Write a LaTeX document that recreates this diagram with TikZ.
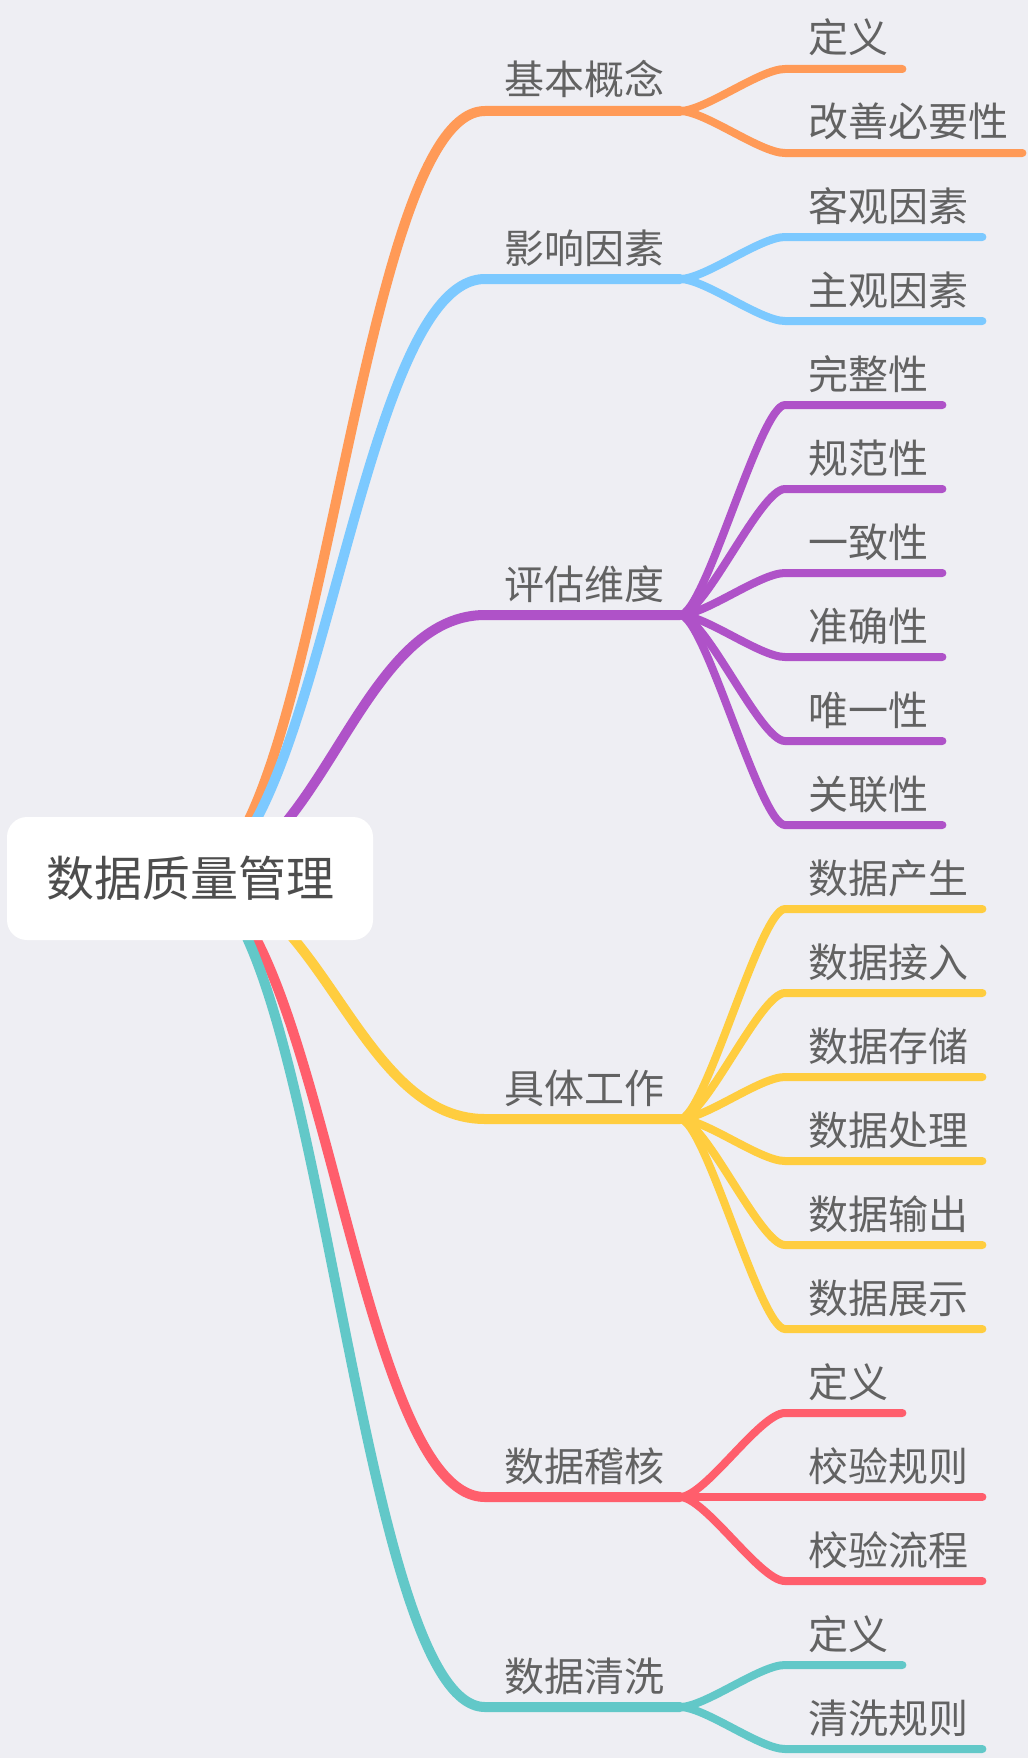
\documentclass[tikz,border=0pt]{standalone}
\usepackage{fontspec}
\setmainfont{Noto Sans CJK SC}
\usetikzlibrary{calc}
\definecolor{bgc}{HTML}{EEEEF3}
\definecolor{corange}{HTML}{FF9A57}
\definecolor{cblue}{HTML}{7CC9FF}
\definecolor{cpurple}{HTML}{AF52C8}
\definecolor{cyellow}{HTML}{FFCD3F}
\definecolor{cred}{HTML}{FF5E6C}
\definecolor{cteal}{HTML}{62C8C8}
\definecolor{txt}{HTML}{626262}
\definecolor{roottxt}{HTML}{4D4D4D}
\pgfdeclarelayer{bgl}
\pgfdeclarelayer{lines}
\pgfsetlayers{bgl,lines,main}
\newcommand{\mmbranch}[4]{% color, y, name, text
  \node[maintext] (#3) at (584.5,#2-16) {#4};
  \coordinate (#3s) at (485,#2);
  \coordinate (#3f) at (680,#2);
  \begin{pgfonlayer}{lines}
  \draw[mainline,#1] (root.center) .. controls ($(root.center)+(130,0)$) and ($(#3s)+(-130,0)$) .. (#3s) -- (#3f);
  \end{pgfonlayer}
}
\newcommand{\mmkid}[5]{% color, fork, y, name, text
  \node[kidtext] (#4) at (808,#3-16) {#5};
  \coordinate (#4s) at (785,#3);
  \begin{pgfonlayer}{lines}
  \draw[kidline,#1] (#2) .. controls ($(#2)+(25,0)$) and ($(#4s)+(-25,0)$) .. (#4s) -- ($(#4.base east)+(14,16)$);
  \end{pgfonlayer}
}
\begin{document}
\begin{tikzpicture}[x=1pt,y=-1pt,
  rootbox/.style={fill=white, rounded corners=20pt, minimum width=366pt, minimum height=123pt, inner sep=0pt, text=roottxt, font=\fontsize{48}{48}\selectfont},
  maintext/.style={anchor=base, inner sep=0pt, text=txt, font=\fontsize{40}{40}\selectfont},
  kidtext/.style={anchor=base west, inner sep=0pt, text=txt, font=\fontsize{40}{40}\selectfont},
  mainline/.style={line width=10pt, line cap=round},
  kidline/.style={line width=8pt, line cap=round}]
\useasboundingbox (0,0) rectangle (1028,1758);
\begin{pgfonlayer}{bgl}
\fill[bgc] (0,0) rectangle (1028,1758);
\end{pgfonlayer}
\node[rootbox] (root) at (190,878.5) {数据质量管理};

\mmbranch{corange}{111}{bA}{基本概念}
\mmkid{corange}{bAf}{69}{kA1}{定义}
\mmkid{corange}{bAf}{153}{kA2}{改善必要性}

\mmbranch{cblue}{279}{bB}{影响因素}
\mmkid{cblue}{bBf}{237}{kB1}{客观因素}
\mmkid{cblue}{bBf}{321}{kB2}{主观因素}

\mmbranch{cpurple}{615}{bC}{评估维度}
\mmkid{cpurple}{bCf}{405}{kC1}{完整性}
\mmkid{cpurple}{bCf}{489}{kC2}{规范性}
\mmkid{cpurple}{bCf}{573}{kC3}{一致性}
\mmkid{cpurple}{bCf}{657}{kC4}{准确性}
\mmkid{cpurple}{bCf}{741}{kC5}{唯一性}
\mmkid{cpurple}{bCf}{825}{kC6}{关联性}

\mmbranch{cyellow}{1119}{bD}{具体工作}
\mmkid{cyellow}{bDf}{909}{kD1}{数据产生}
\mmkid{cyellow}{bDf}{993}{kD2}{数据接入}
\mmkid{cyellow}{bDf}{1077}{kD3}{数据存储}
\mmkid{cyellow}{bDf}{1161}{kD4}{数据处理}
\mmkid{cyellow}{bDf}{1245}{kD5}{数据输出}
\mmkid{cyellow}{bDf}{1329}{kD6}{数据展示}

\mmbranch{cred}{1497}{bE}{数据稽核}
\mmkid{cred}{bEf}{1413}{kE1}{定义}
\mmkid{cred}{bEf}{1497}{kE2}{校验规则}
\mmkid{cred}{bEf}{1581}{kE3}{校验流程}

\mmbranch{cteal}{1707}{bF}{数据清洗}
\mmkid{cteal}{bFf}{1665}{kF1}{定义}
\mmkid{cteal}{bFf}{1749}{kF2}{清洗规则}
\end{tikzpicture}
\end{document}
